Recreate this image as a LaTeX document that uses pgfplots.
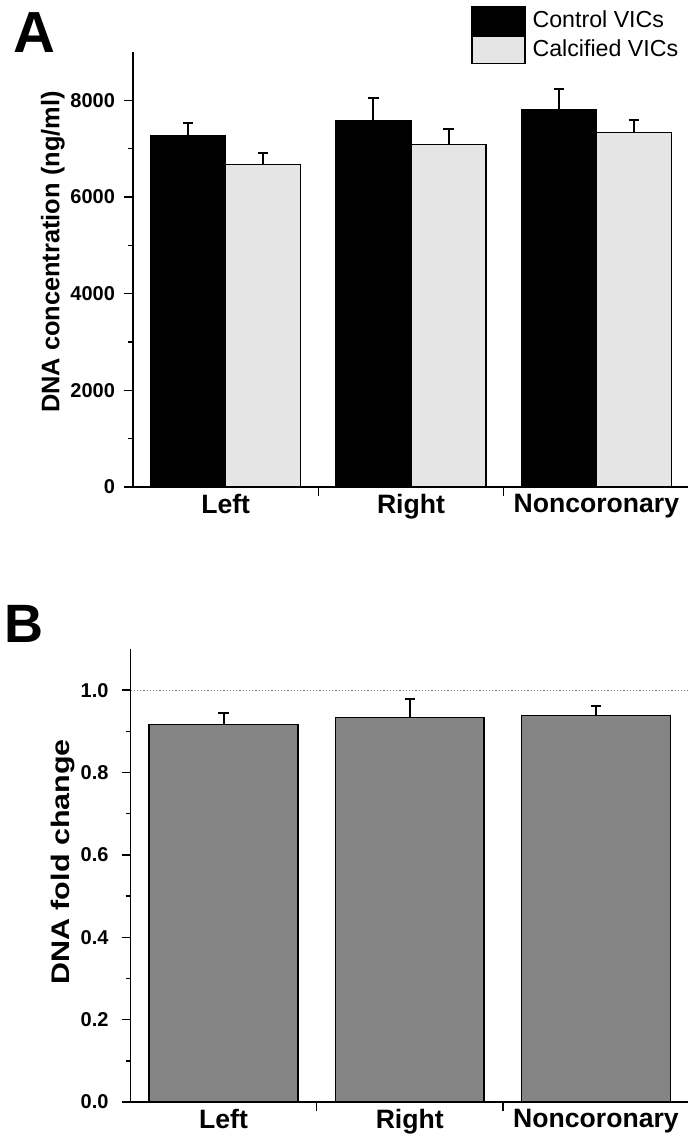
\documentclass[border=0pt]{standalone}
\usepackage{fontspec}
\setmainfont{Liberation Sans}
\usepackage{pgfplots}
\pgfplotsset{compat=1.18}

\pgfplotsset{
  panel/.style={
    scale only axis,
    anchor=south west,
    xmin=0.5, xmax=3.5,
    axis x line*=bottom, axis y line*=left,
    axis line style={-, line width=0.75pt},
    tick align=outside,
    major tick length=4.5pt, minor tick length=2.5pt,
    tick style={line width=0.75pt, black},
    minor y tick num=1,
    xtick={1.5,2.5}, xticklabels={},
    extra x ticks={1,2,3},
    extra x tick labels={Left,Right,Noncoronary},
    extra x tick style={major tick length=0pt},
    /pgf/number format/assume math mode=true,
    yticklabel={\pgfmathprintnumber{\tick}},
    yticklabel style={font=\bfseries\fontsize{10}{11}\selectfont, xshift=-1pt},
    xticklabel style={font=\bfseries\fontsize{13.3}{14}\selectfont},
    ylabel style={font=\bfseries\fontsize{12.7}{13}\selectfont, anchor=center},
    ybar=0pt,
  },
  ebar/.style={
    error bars/y dir=plus, error bars/y explicit,
    error bars/error bar style={line width=1pt, black},
    error bars/error mark options={rotate=90, mark size=2.6pt, line width=1pt, black},
  },
}

\begin{document}
\begin{tikzpicture}
\useasboundingbox (0,0) rectangle (344pt,-570.5pt);

\node[anchor=north west, inner sep=0pt, font=\bfseries\fontsize{29}{30}\selectfont] at (6.5pt,-6pt) {A};
\node[anchor=north west, inner sep=0pt, font=\bfseries\fontsize{27}{28}\selectfont] at (2pt,-302.5pt) {B};

\begin{axis}[
  panel,
  at={(66.5pt,-243.5pt)},
  width=278pt, height=217.5pt,
  ymin=0, ymax=9000,
  ytick={0,2000,4000,6000,8000},
  /pgf/number format/1000 sep={},
  ylabel={DNA concentration (ng/ml)},
  ylabel style={at={(axis description cs:-0.144,0.54)}},
  bar width=0.405,
  legend image code/.code={\draw[#1, line width=0.75pt] (0pt,-6.9pt) rectangle (26.5pt,6.9pt);},
  legend cell align=left,
  legend style={at={(0.608,1.106)}, anchor=north west, draw=none, fill=none,
    inner sep=0pt, outer sep=0pt, row sep=0pt, column sep=3.5pt,
    font=\fontsize{11.6}{12}\selectfont, nodes={inner sep=0pt}},
]
\addplot[ebar, draw=black, fill=black, line width=0.75pt]
  coordinates {(1,7270) +- (0,270) (2,7580) +- (0,460) (3,7810) +- (0,430)};
\addplot[ebar, draw=black, fill=black!10, line width=0.75pt]
  coordinates {(1,6670) +- (0,235) (2,7090) +- (0,310) (3,7335) +- (0,250)};
\legend{Control VICs, Calcified VICs}
\end{axis}

\begin{axis}[
  panel,
  at={(65.25pt,-551pt)},
  width=279.25pt, height=226.5pt,
  ymin=0, ymax=1.1,
  ytick={0,0.2,0.4,0.6,0.8,1.0},
  yticklabel style={/pgf/number format/fixed, /pgf/number format/fixed zerofill, /pgf/number format/precision=1, xshift=-2pt},
  ylabel={DNA fold change},
  ylabel style={at={(axis description cs:-0.12,0.53)}, xscale=1.2},
  bar width=0.8,
]
\addplot[forget plot, gray, densely dotted, line width=0.6pt, sharp plot]
  coordinates {(0.5,1) (3.5,1)};
\addplot[ebar, draw=black, fill=black!48, line width=0.75pt]
  coordinates {(1,0.917) +- (0,0.027) (2,0.934) +- (0,0.044) (3,0.939) +- (0,0.022)};
\end{axis}
\end{tikzpicture}
\end{document}
